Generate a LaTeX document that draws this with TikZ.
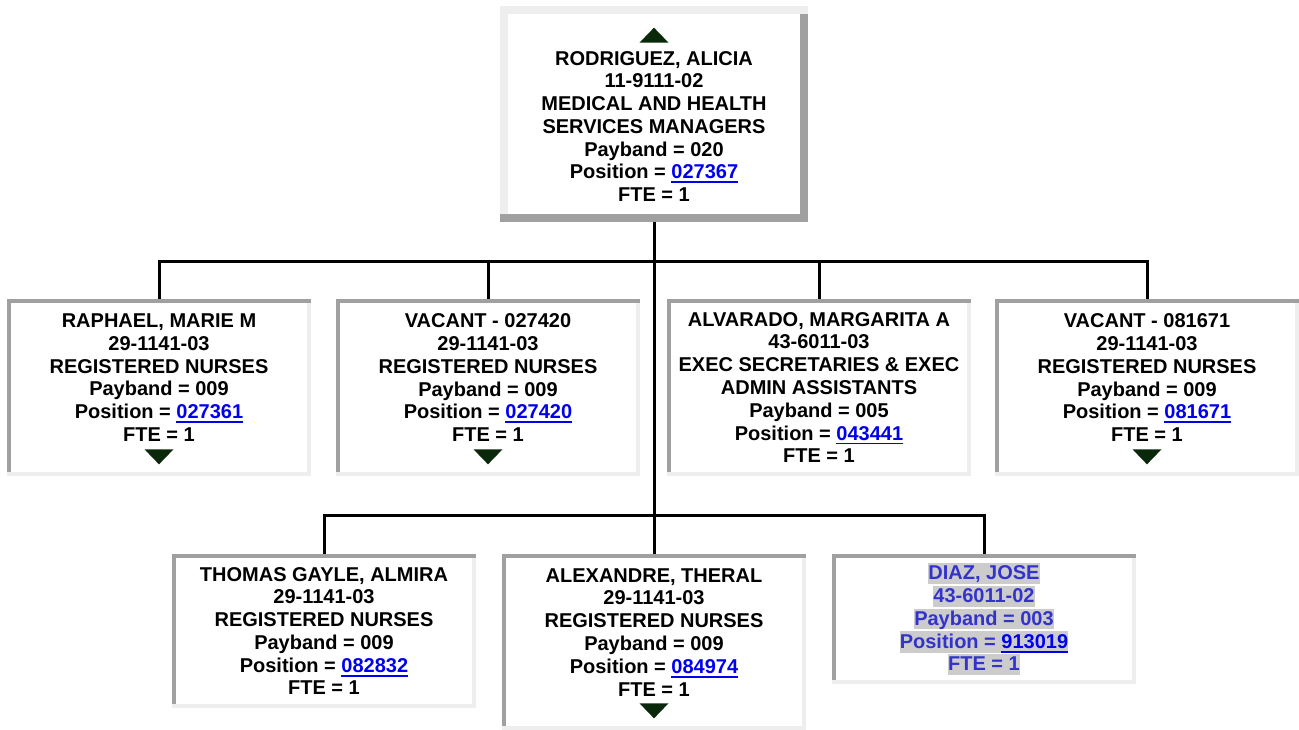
\documentclass[tikz,border=0pt]{standalone}
\usepackage{fontspec}
\setmainfont{Liberation Sans}
\usepackage{tikz}
\usetikzlibrary{calc}

\definecolor{rimdark}{RGB}{160,160,160}
\definecolor{rimlight}{RGB}{238,238,238}
\definecolor{icongreen}{RGB}{10,40,10}
\definecolor{linkblue}{RGB}{0,0,238}
\definecolor{vacblue}{RGB}{51,51,204}
\definecolor{hlgray}{RGB}{204,204,204}

\newcommand{\poslink}[1]{\textcolor{linkblue}{\setbox0\hbox{#1}\rlap{\rule[-2.5pt]{\wd0}{1.1pt}}\box0}}
\newcommand{\hilite}[1]{{\setlength{\fboxsep}{0pt}\colorbox{hlgray}{\rule[-2.3pt]{0pt}{11.8pt}#1}}}

\begin{document}
\begin{tikzpicture}[
    x=0.02cm, y=-0.02cm,
    every node/.style={font=\fontsize{11.38}{12.97}\selectfont\bfseries},
    bevel/.style n args={3}{path picture={
        \fill[#1] (path picture bounding box.south west) rectangle (path picture bounding box.north east);
        \fill[#2] ([shift={(-#3,-#3)}]path picture bounding box.north east) rectangle (path picture bounding box.south east);
        \fill[#2] (path picture bounding box.south west) rectangle ([yshift=#3]path picture bounding box.south east);
        \fill[white] ([shift={(#3,#3)}]path picture bounding box.south west) rectangle ([shift={(-#3,-#3)}]path picture bounding box.north east);
    }},
    headbox/.style={rectangle, inner sep=0pt, align=center, minimum width=6.16cm, minimum height=4.32cm, bevel={rimlight}{rimdark}{0.16cm}},
    staffbox/.style={rectangle, inner sep=0pt, align=center, minimum width=6.08cm, bevel={rimdark}{rimlight}{0.08cm}},
    branch/.style={line width=0.06cm, draw=black},
    icon/.style={fill=icongreen}
]
    \useasboundingbox (0,0) rectangle (1299,730);

    % Manager on top
    \node[headbox] (R) at (654,114) {\strut\\ RODRIGUEZ, ALICIA\\ 11-9111-02\\ MEDICAL AND HEALTH\\ SERVICES MANAGERS\\ Payband = 020\\ Position = \poslink{027367}\\ FTE = 1};

    % First row of reports
    \node[staffbox, minimum height=3.54cm] (RA) at (159,387.5) {RAPHAEL, MARIE M\\ 29-1141-03\\ REGISTERED NURSES\\ Payband = 009\\ Position = \poslink{027361}\\ FTE = 1\\[-1.8pt] \mbox{}};
    \node[staffbox, minimum height=3.54cm] (V1) at (488,387.5) {VACANT - 027420\\ 29-1141-03\\ REGISTERED NURSES\\ Payband = 009\\ Position = \poslink{027420}\\ FTE = 1\\[-1.8pt] \mbox{}};
    \node[staffbox, minimum height=3.54cm] (AL) at (819,387.5) {ALVARADO, MARGARITA A\\ 43-6011-03\\ EXEC SECRETARIES \& EXEC\\ ADMIN ASSISTANTS\\ Payband = 005\\ Position = \poslink{043441}\\ FTE = 1};
    \node[staffbox, minimum height=3.54cm] (V2) at (1147,387.5) {VACANT - 081671\\ 29-1141-03\\ REGISTERED NURSES\\ Payband = 009\\ Position = \poslink{081671}\\ FTE = 1\\[-1.8pt] \mbox{}};

    % Second row of reports
    \node[staffbox, minimum height=3.08cm] (TG) at (324,631) {THOMAS GAYLE, ALMIRA\\ 29-1141-03\\ REGISTERED NURSES\\ Payband = 009\\ Position = \poslink{082832}\\ FTE = 1};
    \node[staffbox, minimum height=3.52cm] (AX) at (654,642) {ALEXANDRE, THERAL\\ 29-1141-03\\ REGISTERED NURSES\\ Payband = 009\\ Position = \poslink{084974}\\ FTE = 1\\[-1.8pt] \mbox{}};
    \node[staffbox, minimum height=2.6cm, text=vacblue] (DJ) at (984,619) {\hilite{DIAZ, JOSE}\\ \hilite{43-6011-02}\\ \hilite{Payband = 003}\\ \hilite{Position = \poslink{913019}}\\ \hilite{FTE = 1}};

    % Expand / collapse arrows
    \fill[icon] ($(R.north)+(-14.5,37)$) -- ++(29,0) -- ++(-14.5,-15) -- cycle;
    \foreach \n in {RA,V1,V2,AX}
        \fill[icon] ($(\n.south)+(-14.5,-27)$) -- ++(29,0) -- ++(-14.5,15) -- cycle;

    % Reporting lines
    \foreach \n in {RA,V1,AL,V2}
        \draw[branch] (R.south) -- ++(0,39) -| (\n.north);
    \foreach \n in {TG,AX,DJ}
        \draw[branch] (R.south) -- ++(0,293) -| (\n.north);
\end{tikzpicture}
\end{document}
